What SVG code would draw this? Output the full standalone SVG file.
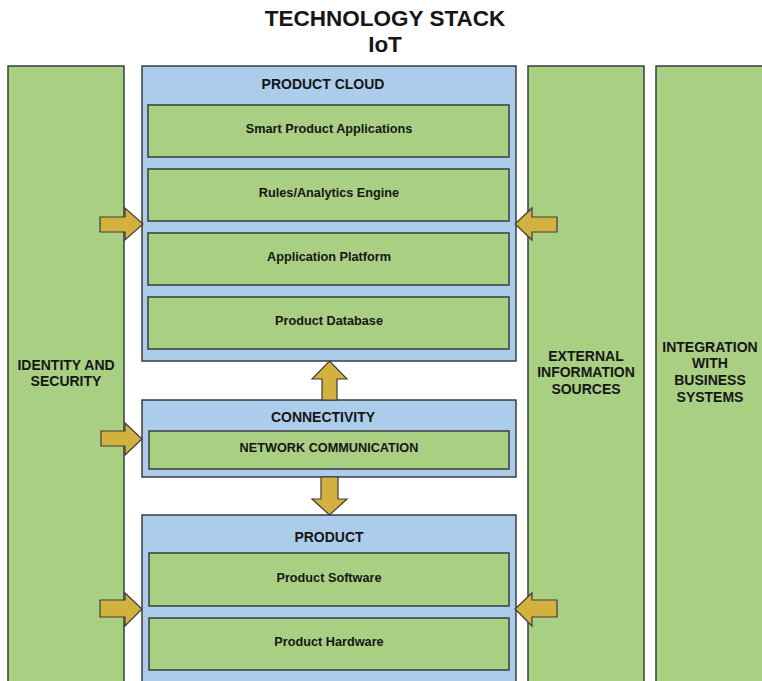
<svg xmlns="http://www.w3.org/2000/svg" width="762" height="681" viewBox="0 0 762 681">
  <style>
    .col { fill: #a9cf83; stroke: #3c3c3c; stroke-width: 1.5; }
    .layer { fill: #abcdeb; stroke: #3c3c3c; stroke-width: 1.5; }
    .block { fill: #a9cf83; stroke: #3c3c3c; stroke-width: 1.5; }
    .arrow { fill: #d3b13f; stroke: #3c3c3c; stroke-width: 1.2; stroke-linejoin: miter; }
    text { font-family: "Liberation Sans", Arial, sans-serif; font-weight: bold; fill: #161616; text-anchor: middle; }
    .title { font-size: 22.5px; }
    .head { font-size: 14px; }
    .item { font-size: 12.7px; }
  </style>
  <rect width="762" height="681" fill="#ffffff"/>

  <g id="title">
    <text class="title" x="385" y="26">TECHNOLOGY STACK</text>
    <text class="title" x="385" y="52">IoT</text>
  </g>

  <!-- side columns -->
  <g id="identity-security">
    <rect class="col" x="8" y="66" width="116" height="630"/>
    <text class="head" x="66" y="370">IDENTITY AND</text>
    <text class="head" x="66" y="386">SECURITY</text>
  </g>
  <g id="external-sources">
    <rect class="col" x="528" y="66" width="116" height="630"/>
    <text class="head" x="586" y="361">EXTERNAL</text>
    <text class="head" x="586" y="377">INFORMATION</text>
    <text class="head" x="586" y="394">SOURCES</text>
  </g>
  <g id="business-integration">
    <rect class="col" x="656" y="66" width="120" height="630"/>
    <text class="head" x="710" y="352">INTEGRATION</text>
    <text class="head" x="710" y="368">WITH</text>
    <text class="head" x="710" y="385">BUSINESS</text>
    <text class="head" x="710" y="402">SYSTEMS</text>
  </g>

  <!-- product cloud layer -->
  <g id="product-cloud">
    <rect class="layer" x="142" y="66" width="374" height="295"/>
    <text class="head" x="323" y="89">PRODUCT CLOUD</text>
  </g>
  <g id="smart-product-applications">
    <rect class="block" x="148" y="105" width="361" height="52"/>
    <text class="item" x="329" y="133">Smart Product Applications</text>
  </g>
  <g id="rules-analytics-engine">
    <rect class="block" x="148" y="169" width="361" height="52"/>
    <text class="item" x="329" y="197">Rules/Analytics Engine</text>
  </g>
  <g id="application-platform">
    <rect class="block" x="148" y="233" width="361" height="52"/>
    <text class="item" x="329" y="261">Application Platform</text>
  </g>
  <g id="product-database">
    <rect class="block" x="148" y="297" width="361" height="52"/>
    <text class="item" x="329" y="325">Product Database</text>
  </g>

  <!-- connectivity layer -->
  <g id="connectivity">
    <rect class="layer" x="142" y="400" width="374" height="77"/>
    <text class="head" x="323" y="422">CONNECTIVITY</text>
  </g>
  <g id="network-communication">
    <rect class="block" x="149" y="431" width="360" height="38"/>
    <text class="item" x="329" y="452">NETWORK COMMUNICATION</text>
  </g>

  <!-- product layer -->
  <g id="product">
    <rect class="layer" x="142" y="515" width="374" height="180"/>
    <text class="head" x="329" y="542">PRODUCT</text>
  </g>
  <g id="product-software">
    <rect class="block" x="149" y="553" width="360" height="53"/>
    <text class="item" x="329" y="582">Product Software</text>
  </g>
  <g id="product-hardware">
    <rect class="block" x="149" y="618" width="360" height="52"/>
    <text class="item" x="329" y="646">Product Hardware</text>
  </g>

  <!-- block arrows between columns and layers -->
  <g id="connectors">
    <!-- identity & security into cloud -->
    <path class="arrow" d="M100,217 H125 V208 L143,224 L125,240 V232 H100 Z"/>
    <!-- external sources into cloud -->
    <path class="arrow" d="M557,217 H532 V208 L515,224 L532,240 V232 H557 Z"/>
    <!-- identity & security into connectivity -->
    <path class="arrow" d="M101,431 H125 V423 L142,439 L125,455 V446 H101 Z"/>
    <!-- connectivity up to cloud -->
    <path class="arrow" d="M322,400 V379 H312 L329.5,361 L347,379 H337 V400 Z"/>
    <!-- connectivity down to product -->
    <path class="arrow" d="M321,477 V499 H312 L329.5,515 L347,499 H338 V477 Z"/>
    <!-- identity & security into product -->
    <path class="arrow" d="M100,600 H125 V593 L142,609 L125,626 V617 H100 Z"/>
    <!-- external sources into product -->
    <path class="arrow" d="M557,600 H532 V593 L515,609 L532,626 V617 H557 Z"/>
  </g>
</svg>
